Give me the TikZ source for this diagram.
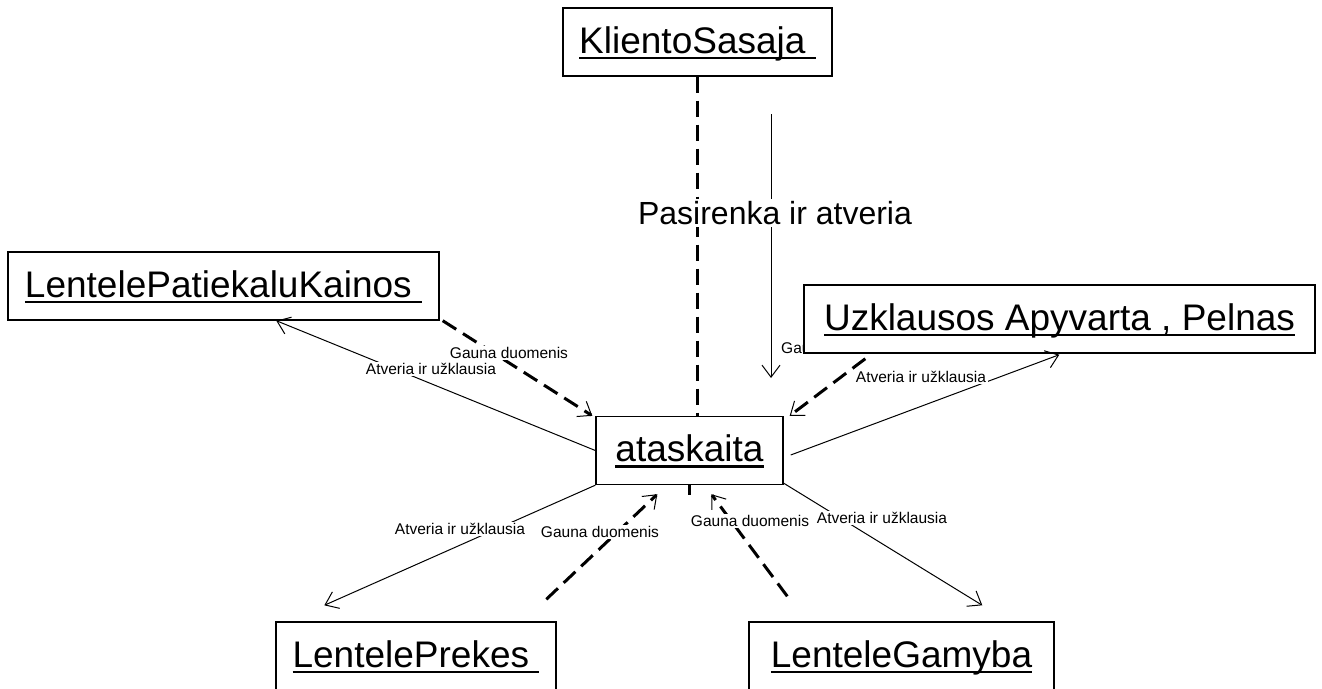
\documentclass[tikz,border=0pt]{standalone}
\usepackage{fontspec}
\setmainfont{Liberation Sans}
\usetikzlibrary{arrows.meta,calc}

% underlined object name, thick rule just under the baseline
\newsavebox\ulsave
\newcommand\objname[1]{\sbox\ulsave{#1}\rlap{\vrule width\wd\ulsave height -3.5pt depth 6pt}\usebox\ulsave}

\tikzset{
  objbox/.style={draw, line width=1.4pt, fill=white, inner sep=0pt,
    minimum height=68pt, font=\fontsize{37}{44}\selectfont,
    text height=30pt, text depth=8pt},
  msglabel/.style={fill=white, inner sep=1.5pt, font=\fontsize{15.5}{18}\selectfont},
  calllabel/.style={fill=white, inner sep=2pt, font=\fontsize{32}{38}\selectfont},
  openbarb/.style={-{Straight Barb[length=12pt,width=18pt,line width=1pt]}},
  callline/.style={line width=1pt},
  dataline/.style={line width=3pt, dash pattern=on 16pt off 8pt},
}

\begin{document}
\begin{tikzpicture}[x=1pt,y=-1pt]
\fill[white] (0,0) rectangle (1322,688);
\useasboundingbox (0,0) rectangle (1322,688);

% label partly hidden under the query box
\node[msglabel, anchor=west] (hidden) at (779.5,348) {Gauna duomenis};

% objects
\node[objbox, minimum width=269pt] (ks)  at (697.5,42)   {\objname{KlientoSasaja\ }};
\node[objbox, minimum width=431pt] (lpk) at (223.5,286)  {\objname{LentelePatiekaluKainos\ }};
\node[objbox, minimum width=511pt] (uz)  at (1059.5,319) {\objname{Uzklausos Apyvarta , Pelnas}};
\node[objbox, minimum width=187pt] (ata) at (689.5,450.5) {\objname{ataskaita}};
\node[objbox, minimum width=280pt] (lp)  at (416,656)    {\objname{LentelePrekes\ }};
\node[objbox, minimum width=305pt] (lg)  at (901.5,656)  {\objname{LenteleGamyba}};

% free ends of the selection message
\coordinate (msgtop) at (771,114);
\coordinate (msgtip) at (771,378);

% client interface to report
\draw[dataline] (ks.south) -- (ks.south |- ata.north);
\draw[dataline] (ata.south) -- ++(0,10);
\draw[callline, openbarb] (msgtop) -- (msgtip);

% queries: revenue and profit
\draw[dataline, openbarb] ($(uz.south west)+(62,5)$) -- ($(ata.north east)+(6,0)$);
\draw[callline, openbarb] ($(ata.east)+(7,4.5)$) -- ($(uz.south west)+(256,1)$);

% dish prices table
\draw[callline, openbarb] (ata.west) -- ($(lpk.south west)+(269,0)$);
\draw[dataline, openbarb] ($(lpk.south east)+(3,0)$) -- ($(ata.north west)+(-3,0)$);

% goods table
\draw[callline, openbarb] (ata.south west) -- ($(lp.north west)+(49,-16)$);
\draw[dataline, openbarb] ($(lp.north west)+(271,-22)$) -- ($(ata.south west)+(62,9)$);

% production table
\draw[dataline, openbarb] ($(lg.north west)+(39,-25)$) -- ($(ata.south west)+(116,9)$);
\draw[callline, openbarb] ($(ata.south east)+(0,-2)$) -- ($(lg.north west)+(234,-16)$);

% message labels
\node[calllabel] (lsel) at (775,213) {Pasirenka ir atveria};
\node[msglabel] (l1) at (509,353) {Gauna duomenis};
\node[msglabel] (l2) at (431,369) {Atveria ir užklausia};
\node[msglabel] (l3) at (921,377) {Atveria ir užklausia};
\node[msglabel] (l4) at (460,529) {Atveria ir užklausia};
\node[msglabel] (l5) at (600,532) {Gauna duomenis};
\node[msglabel] (l6) at (750,521) {Gauna duomenis};
\node[msglabel] (l7) at (882,518) {Atveria ir užklausia};
\end{tikzpicture}
\end{document}
